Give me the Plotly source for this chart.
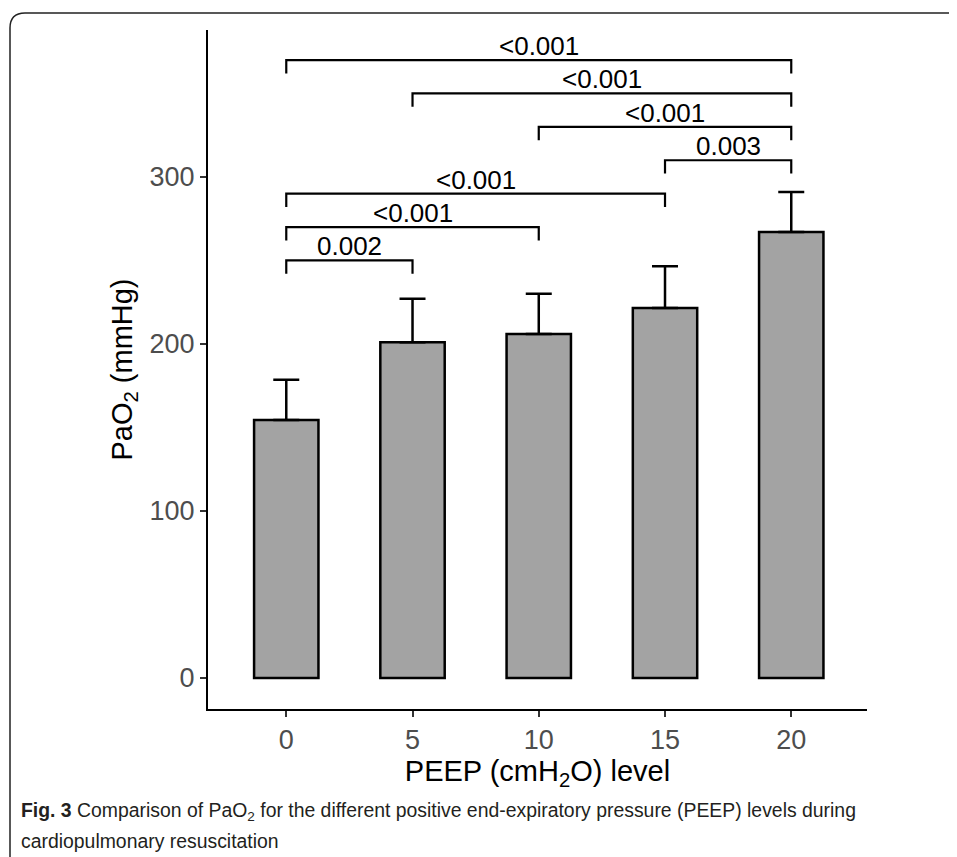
import plotly.graph_objects as go

# ---- data ----
peep = [0, 5, 10, 15, 20]
tick_labels = ["0", "5", "10", "15", "20"]
pao2_mean = [154.5, 201, 206, 221.5, 267]
pao2_sd = [24, 26, 24, 25, 24]

comp_from = [0, 0, 0, 15, 10, 5, 0]
comp_to = [5, 10, 15, 20, 20, 20, 20]
comp_p = ["0.002", "<0.001", "<0.001", "0.003", "<0.001", "<0.001", "<0.001"]
comp_y = [250, 270, 290, 310, 330, 350, 370]
tip = 8

OFF = 8  # page body margin
W, H = 957 - OFF, 857 - OFF
L, R, T, B = 208 - OFF, 867 - OFF, 30 - OFF, 709 - OFF

def fx(px):
    return (px - OFF - L) / (R - L)

def fy(py):
    return (B - (py - OFF)) / (B - T)

fig = go.Figure()

fig.add_trace(go.Bar(
    x=peep, y=pao2_mean, width=2.55,
    marker=dict(color="#A3A3A3", line=dict(color="black", width=2.5)),
    error_y=dict(type="data", symmetric=False, array=pao2_sd,
                 arrayminus=[0] * len(pao2_sd), color="black",
                 thickness=2.5, width=13),
    showlegend=False, hoverinfo="skip",
))

bx, by = [], []
for a, b, h in zip(comp_from, comp_to, comp_y):
    bx += [a, a, b, b, None]
    by += [h - tip, h, h, h - tip, None]
fig.add_trace(go.Scatter(x=bx, y=by, mode="lines",
                         line=dict(color="black", width=2.2),
                         showlegend=False, hoverinfo="skip"))

annotations = []
for a, b, h, p in zip(comp_from, comp_to, comp_y, comp_p):
    annotations.append(dict(x=(a + b) / 2, y=h, xref="x", yref="y",
                            text=p, showarrow=False, yanchor="bottom",
                            yshift=-3,
                            font=dict(family="Liberation Sans, Arial", size=26,
                                      color="black")))

cap_font = dict(family="Liberation Sans, Arial", size=19.4, color="#231f20")
annotations.append(dict(x=fx(19), y=fy(812), xref="paper", yref="paper",
                        xanchor="left", yanchor="middle", showarrow=False,
                        text="<b>Fig. 3</b> Comparison of PaO<sub>2</sub> for the different "
                             "positive end-expiratory pressure (PEEP) levels during",
                        font=cap_font))
annotations.append(dict(x=fx(19), y=fy(841), xref="paper", yref="paper",
                        xanchor="left", yanchor="middle", showarrow=False,
                        text="cardiopulmonary resuscitation", font=cap_font))

# rounded frame (cut off at right and bottom)
r = 15
frame = (f"M {fx(10)} {fy(900)} L {fx(10)} {fy(13 + r)} "
         f"Q {fx(10)} {fy(13)} {fx(10 + r)} {fy(13)} L {fx(1000)} {fy(13)}")

fig.update_layout(
    width=W, height=H,
    margin=dict(l=L, r=W - R, t=T, b=H - B, autoexpand=False),
    plot_bgcolor="white", paper_bgcolor="white",
    font=dict(family="Liberation Sans, Arial", color="black"),
    xaxis=dict(range=[-3.1, 23.0], tickvals=peep, ticktext=tick_labels,
               showline=True, linecolor="black", linewidth=2,
               ticks="outside", ticklen=6, tickwidth=2, tickcolor="#333",
               tickfont=dict(size=27, color="#4D4D4D"),
               showgrid=False, zeroline=False,
               title=dict(text="PEEP (cmH<sub>2</sub>O) level",
                          font=dict(size=29, color="black"), standoff=6)),
    yaxis=dict(range=[-18.6, 388], tickvals=[0, 100, 200, 300],
               showline=True, linecolor="black", linewidth=2,
               ticks="outside", ticklen=6, tickwidth=2, tickcolor="#333",
               tickfont=dict(size=27, color="#4D4D4D"),
               showgrid=False, zeroline=False,
               title=dict(text="PaO<sub>2</sub> (mmHg)",
                          font=dict(size=29, color="black"), standoff=8)),
    annotations=annotations,
    shapes=[dict(type="path", path=frame, xref="paper", yref="paper",
                 line=dict(color="#222", width=1.5))],
)

fig.write_html("out.html")
